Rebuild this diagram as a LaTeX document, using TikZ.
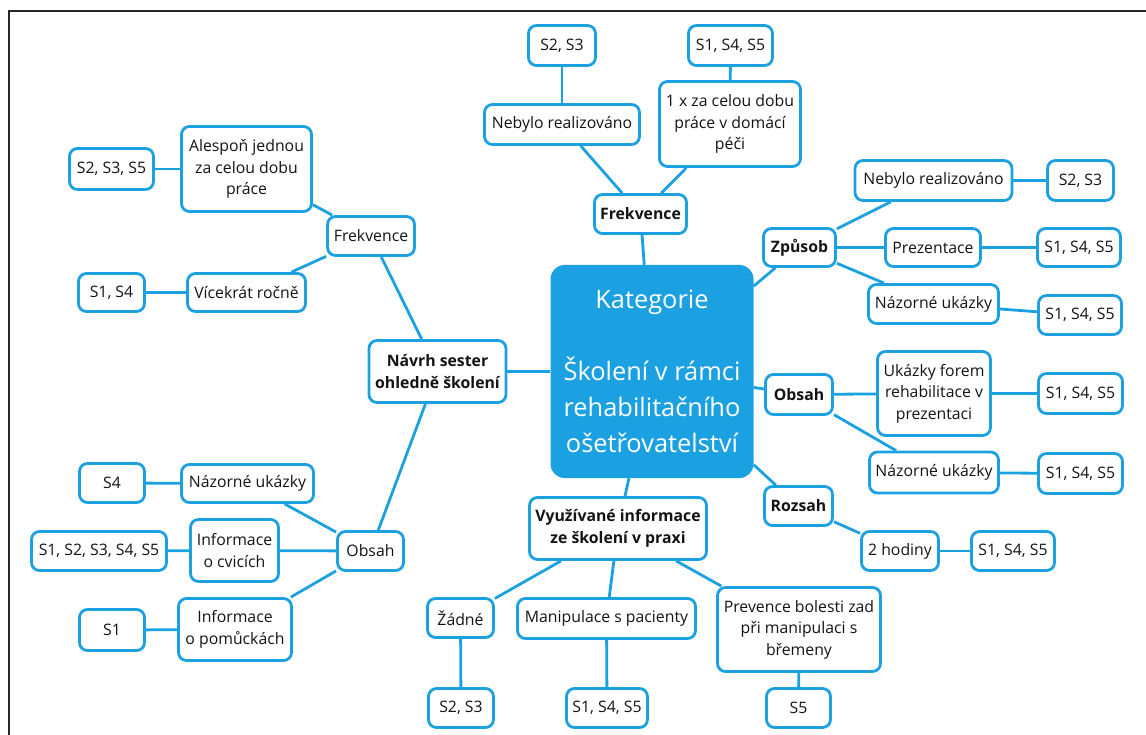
\documentclass[tikz,border=0pt]{standalone}
\usepackage{fontspec}
\setmainfont{Open Sans}
\usetikzlibrary{backgrounds}
\definecolor{mblue}{HTML}{1BA1E2}
\definecolor{ink}{HTML}{141414}
\tikzset{
  box/.style={draw=mblue, line width=2.8pt, rounded corners=8pt, fill=white,
    align=center, inner sep=1pt, text=ink,
    font=\fontsize{15.8}{21.5}\selectfont},
  hub/.style={box, font=\bfseries\fontsize{15.8}{21.5}\selectfont},
  root/.style={fill=mblue, draw=none, rounded corners=14pt, text=white,
    align=center, inner sep=0pt, font=\fontsize{25.4}{36}\selectfont},
  link/.style={draw=mblue, line width=2.8pt},
  frame/.style={draw=black!85, line width=1.4pt}
}
\begin{document}
\begin{tikzpicture}[x=1pt, y=-1pt]
\useasboundingbox (0,0) rectangle (1146,735);
\draw[frame] (9,745) -- (9,11) -- (1150,11);

% central category
\node[root, minimum width=203, minimum height=213] (K) at (652,371.5)
  {Kategorie\\\mbox{}\\Školení v rámci\\rehabilitačního\\ošetřovatelství};

% top branch: Frekvence
\node[hub, minimum width=92, minimum height=39] (frek) at (640.5,214) {Frekvence};
\node[box, minimum width=155, minimum height=40] (tneb) at (562,124.5) {Nebylo realizováno};
\node[box, minimum width=67, minimum height=40] (tneb s) at (562,45.5) {S2, S3};
\node[box, minimum width=141, minimum height=85] (tonce) at (730,124) {1 x za celou dobu\\práce v domácí\\péči};
\node[box, minimum width=84, minimum height=40] (tonce s) at (730.5,45.5) {S1, S4, S5};

% left branch: Návrh sester
\node[hub, minimum width=137, minimum height=62] (navrh) at (437.5,371.5) {Návrh sester\\ohledně školení};
\node[box, minimum width=87, minimum height=39] (lfrek) at (371,236) {Frekvence};
\node[box, minimum width=130, minimum height=85] (lales) at (246.5,169) {Alespoň jednou\\za celou dobu\\práce};
\node[box, minimum width=84, minimum height=41] (lales s) at (111.5,169) {S2, S3, S5};
\node[box, minimum width=118, minimum height=38] (lvic) at (246.5,292.5) {Vícekrát ročně};
\node[box, minimum width=66, minimum height=38] (lvic s) at (111.5,292.5) {S1, S4};
\node[box, minimum width=66, minimum height=39] (lobs) at (370.5,551) {Obsah};
\node[box, minimum width=132, minimum height=38] (lnaz) at (247.5,483.5) {Názorné ukázky};
\node[box, minimum width=65, minimum height=39] (lnaz s) at (112,483) {S4};
\node[box, minimum width=88, minimum height=62] (lcvi) at (234.5,550.5) {Informace\\o cvicích};
\node[box, minimum width=135, minimum height=39] (lcvi s) at (99,551) {S1, S2, S3, S4, S5};
\node[box, minimum width=113, minimum height=62] (lpom) at (235,629.5) {Informace\\o pomůckách};
\node[box, minimum width=65, minimum height=41] (lpom s) at (112,630) {S1};

% right branches: Způsob, Obsah, Rozsah
\node[hub, minimum width=72, minimum height=38] (zpu) at (799.5,247.5) {Způsob};
\node[box, minimum width=157, minimum height=40] (rneb) at (933.5,180.5) {Nebylo realizováno};
\node[box, minimum width=66, minimum height=40] (rneb s) at (1080.5,180.5) {S2, S3};
\node[box, minimum width=95, minimum height=38] (rpre) at (933,247.5) {Prezentace};
\node[box, minimum width=83, minimum height=38] (rpre s) at (1079,247.5) {S1, S4, S5};
\node[box, minimum width=130, minimum height=39] (rnaza) at (933.5,304) {Názorné ukázky};
\node[box, minimum width=83, minimum height=39] (rnaza s) at (1080,315) {S1, S4, S5};

\node[hub, minimum width=67, minimum height=40] (robs) at (799,394.5) {Obsah};
\node[box, minimum width=113, minimum height=84] (ruka) at (934,393.5) {Ukázky forem\\rehabilitace v\\prezentaci};
\node[box, minimum width=84, minimum height=40] (ruka s) at (1080.5,393.5) {S1, S4, S5};
\node[box, minimum width=129, minimum height=41] (rnazb) at (934,472.5) {Názorné ukázky};
\node[box, minimum width=84, minimum height=40] (rnazb s) at (1080.5,473.5) {S1, S4, S5};

\node[hub, minimum width=68, minimum height=39] (roz) at (798.5,506) {Rozsah};
\node[box, minimum width=77, minimum height=39] (rhod) at (900,551) {2 hodiny};
\node[box, minimum width=83, minimum height=39] (rhod s) at (1013,551) {S1, S4, S5};

% bottom branch: Využívané informace
\node[hub, minimum width=177, minimum height=62] (vyu) at (618,528.5) {Využívané informace\\ze školení v praxi};
\node[box, minimum width=66, minimum height=39] (zad) at (460.5,618) {Žádné};
\node[box, minimum width=65, minimum height=39] (zad s) at (461,708) {S2, S3};
\node[box, minimum width=178, minimum height=40] (man) at (606.5,618.5) {Manipulace s pacienty};
\node[box, minimum width=81, minimum height=39] (man s) at (607,708) {S1, S4, S5};
\node[box, minimum width=163, minimum height=84] (prev) at (799,629.5) {Prevence bolesti zad\\při manipulaci s\\břemeny};
\node[box, minimum width=64, minimum height=39] (prev s) at (798.5,708) {S5};

\begin{pgfonlayer}{background}
  % main branches
  \draw[link] (K) -- (frek);
  \draw[link] (K) -- (navrh);
  \draw[link] (K) -- (zpu);
  \draw[link] (K) -- (robs);
  \draw[link] (K) -- (roz);
  \draw[link] (K) -- (vyu);
  % top
  \draw[link] (frek) -- (tneb);
  \draw[link] (frek) -- (tonce);
  \draw[link] (tneb) -- (tneb s);
  \draw[link] (tonce) -- (tonce s);
  % left
  \draw[link] (navrh) -- (lfrek);
  \draw[link] (navrh) -- (lobs);
  \draw[link] (lfrek) -- (lales);
  \draw[link] (lfrek) -- (lvic);
  \draw[link] (lales) -- (lales s);
  \draw[link] (lvic) -- (lvic s);
  \draw[link] (lobs) -- (lnaz);
  \draw[link] (lobs) -- (lcvi);
  \draw[link] (lobs) -- (lpom);
  \draw[link] (lnaz) -- (lnaz s);
  \draw[link] (lcvi) -- (lcvi s);
  \draw[link] (lpom) -- (lpom s);
  % right
  \draw[link] (zpu) -- (rneb);
  \draw[link] (zpu) -- (rpre);
  \draw[link] (zpu) -- (rnaza);
  \draw[link] (rneb) -- (rneb s);
  \draw[link] (rpre) -- (rpre s);
  \draw[link] (rnaza) -- (rnaza s);
  \draw[link] (robs) -- (ruka);
  \draw[link] (robs) -- (rnazb);
  \draw[link] (ruka) -- (ruka s);
  \draw[link] (rnazb) -- (rnazb s);
  \draw[link] (roz) -- (rhod);
  \draw[link] (rhod) -- (rhod s);
  % bottom
  \draw[link] (vyu) -- (zad);
  \draw[link] (vyu) -- (man);
  \draw[link] (vyu) -- (prev);
  \draw[link] (zad) -- (zad s);
  \draw[link] (man) -- (man s);
  \draw[link] (prev) -- (prev s);
\end{pgfonlayer}
\end{tikzpicture}
\end{document}
